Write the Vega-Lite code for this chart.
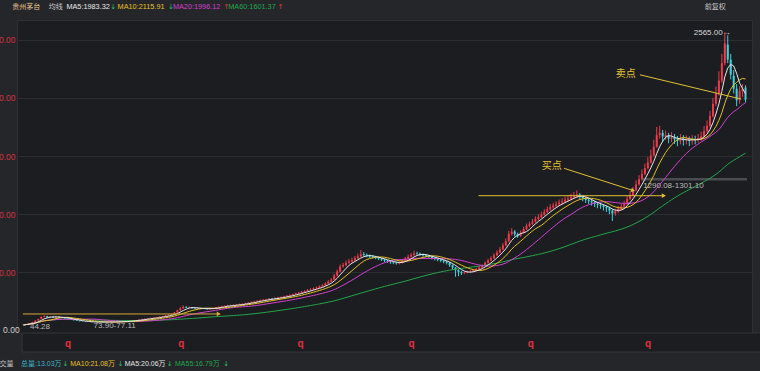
{
"$schema": "https://vega.github.io/schema/vega-lite/v6.json",
"width": 735, "height": 313,
"autosize": {"type": "none"},
"padding": {"left": 17, "top": 20, "right": 8, "bottom": 38},
"background": "#25262a",
"config": {"view": {"fill": "#1c1d21", "stroke": "#2e2f33"}, "axisY": {"titleOpacity": 0}},
"datasets": {"k": [
{"t":0,"o":46,"h":47,"l":43,"c":44},{"t":1,"o":44,"h":53,"l":43,"c":52},{"t":2,"o":53,"h":60,"l":51,"c":58},{"t":3,"o":58,"h":72,"l":57,"c":70},{"t":4,"o":71,"h":85,"l":70,"c":82},{"t":5,"o":83,"h":98,"l":81,"c":95},{"t":6,"o":96,"h":118,"l":94,"c":114},{"t":7,"o":113,"h":126,"l":110,"c":122},{"t":8,"o":121,"h":123,"l":107,"c":110},{"t":9,"o":109,"h":118,"l":107,"c":115},
{"t":10,"o":115,"h":117,"l":105,"c":108},{"t":11,"o":107,"h":119,"l":105,"c":116},{"t":12,"o":117,"h":118,"l":108,"c":111},{"t":13,"o":112,"h":113,"l":103,"c":105},{"t":14,"o":104,"h":106,"l":98,"c":100},{"t":15,"o":101,"h":102,"l":94,"c":97},{"t":16,"o":97,"h":98,"l":88,"c":90},{"t":17,"o":91,"h":92,"l":83,"c":85},{"t":18,"o":84,"h":86,"l":78,"c":80},{"t":19,"o":80,"h":81,"l":75,"c":77},
{"t":20,"o":76,"h":78,"l":73,"c":75},{"t":21,"o":75,"h":76,"l":70,"c":72},{"t":22,"o":72,"h":74,"l":69,"c":71},{"t":23,"o":71,"h":72,"l":67,"c":69},{"t":24,"o":68,"h":72,"l":67,"c":70},{"t":25,"o":70,"h":71,"l":65,"c":67},{"t":26,"o":67,"h":73,"l":66,"c":71},{"t":27,"o":71,"h":72,"l":66,"c":68},{"t":28,"o":68,"h":72,"l":67,"c":70},{"t":29,"o":69,"h":74,"l":68,"c":72},
{"t":30,"o":72,"h":73,"l":67,"c":69},{"t":31,"o":69,"h":72,"l":68,"c":70},{"t":32,"o":70,"h":75,"l":69,"c":73},{"t":33,"o":73,"h":76,"l":72,"c":74},{"t":34,"o":74,"h":79,"l":73,"c":77},{"t":35,"o":77,"h":79,"l":74,"c":76},{"t":36,"o":76,"h":82,"l":75,"c":80},{"t":37,"o":80,"h":86,"l":79,"c":84},{"t":38,"o":84,"h":88,"l":82,"c":86},{"t":39,"o":86,"h":93,"l":85,"c":91},
{"t":40,"o":91,"h":97,"l":89,"c":94},{"t":41,"o":94,"h":100,"l":92,"c":97},{"t":42,"o":97,"h":103,"l":95,"c":101},{"t":43,"o":101,"h":107,"l":99,"c":104},{"t":44,"o":104,"h":111,"l":102,"c":108},{"t":45,"o":108,"h":114,"l":106,"c":111},{"t":46,"o":111,"h":118,"l":109,"c":115},{"t":47,"o":115,"h":123,"l":113,"c":120},{"t":48,"o":120,"h":129,"l":118,"c":126},{"t":49,"o":126,"h":135,"l":124,"c":131},
{"t":50,"o":131,"h":140,"l":129,"c":136},{"t":51,"o":137,"h":156,"l":135,"c":152},{"t":52,"o":152,"h":175,"l":150,"c":170},{"t":53,"o":170,"h":198,"l":168,"c":188},{"t":54,"o":188,"h":212,"l":185,"c":200},{"t":55,"o":201,"h":205,"l":190,"c":194},{"t":56,"o":193,"h":203,"l":190,"c":197},{"t":57,"o":197,"h":199,"l":185,"c":189},{"t":58,"o":190,"h":193,"l":182,"c":186},{"t":59,"o":185,"h":195,"l":183,"c":190},
{"t":60,"o":190,"h":192,"l":180,"c":183},{"t":61,"o":182,"h":189,"l":179,"c":185},{"t":62,"o":185,"h":187,"l":176,"c":180},{"t":63,"o":180,"h":189,"l":178,"c":186},{"t":64,"o":186,"h":194,"l":184,"c":190},{"t":65,"o":190,"h":200,"l":188,"c":197},{"t":66,"o":197,"h":205,"l":195,"c":201},{"t":67,"o":201,"h":210,"l":199,"c":206},{"t":68,"o":206,"h":213,"l":203,"c":208},{"t":69,"o":208,"h":218,"l":206,"c":214},
{"t":70,"o":215,"h":218,"l":208,"c":211},{"t":71,"o":211,"h":222,"l":209,"c":218},{"t":72,"o":218,"h":225,"l":215,"c":220},{"t":73,"o":220,"h":228,"l":217,"c":223},{"t":74,"o":223,"h":231,"l":220,"c":226},{"t":75,"o":226,"h":236,"l":224,"c":232},{"t":76,"o":232,"h":241,"l":229,"c":236},{"t":77,"o":236,"h":248,"l":233,"c":243},{"t":78,"o":243,"h":252,"l":240,"c":246},{"t":79,"o":246,"h":257,"l":243,"c":252},
{"t":80,"o":252,"h":263,"l":249,"c":258},{"t":81,"o":258,"h":267,"l":254,"c":262},{"t":82,"o":262,"h":271,"l":258,"c":265},{"t":83,"o":265,"h":276,"l":261,"c":271},{"t":84,"o":272,"h":277,"l":265,"c":270},{"t":85,"o":270,"h":282,"l":267,"c":277},{"t":86,"o":277,"h":287,"l":273,"c":281},{"t":87,"o":281,"h":290,"l":276,"c":284},{"t":88,"o":284,"h":296,"l":280,"c":290},{"t":89,"o":290,"h":302,"l":286,"c":296},
{"t":90,"o":296,"h":308,"l":292,"c":302},{"t":91,"o":302,"h":315,"l":298,"c":309},{"t":92,"o":309,"h":323,"l":305,"c":316},{"t":93,"o":316,"h":330,"l":311,"c":322},{"t":94,"o":322,"h":337,"l":317,"c":330},{"t":95,"o":330,"h":344,"l":325,"c":337},{"t":96,"o":337,"h":353,"l":332,"c":345},{"t":97,"o":345,"h":360,"l":340,"c":351},{"t":98,"o":351,"h":368,"l":346,"c":360},{"t":99,"o":360,"h":375,"l":354,"c":366},
{"t":100,"o":366,"h":385,"l":361,"c":376},{"t":101,"o":376,"h":396,"l":370,"c":386},{"t":102,"o":386,"h":412,"l":380,"c":402},{"t":103,"o":402,"h":430,"l":396,"c":420},{"t":104,"o":420,"h":448,"l":414,"c":436},{"t":105,"o":436,"h":485,"l":430,"c":470},{"t":106,"o":470,"h":522,"l":462,"c":505},{"t":107,"o":505,"h":565,"l":498,"c":548},{"t":108,"o":548,"h":580,"l":538,"c":560},{"t":109,"o":560,"h":600,"l":552,"c":580},
{"t":110,"o":580,"h":612,"l":570,"c":592},{"t":111,"o":592,"h":625,"l":580,"c":604},{"t":112,"o":604,"h":640,"l":595,"c":620},{"t":113,"o":620,"h":660,"l":610,"c":636},{"t":114,"o":636,"h":690,"l":628,"c":652},{"t":115,"o":655,"h":672,"l":635,"c":648},{"t":116,"o":648,"h":660,"l":628,"c":640},{"t":117,"o":641,"h":652,"l":622,"c":633},{"t":118,"o":634,"h":645,"l":615,"c":628},{"t":119,"o":628,"h":640,"l":610,"c":622},
{"t":120,"o":622,"h":632,"l":603,"c":615},{"t":121,"o":615,"h":622,"l":595,"c":606},{"t":122,"o":607,"h":615,"l":586,"c":598},{"t":123,"o":598,"h":605,"l":578,"c":590},{"t":124,"o":590,"h":600,"l":572,"c":584},{"t":125,"o":584,"h":596,"l":568,"c":580},{"t":126,"o":580,"h":590,"l":564,"c":576},{"t":127,"o":575,"h":594,"l":566,"c":580},{"t":128,"o":580,"h":610,"l":574,"c":596},{"t":129,"o":596,"h":630,"l":590,"c":615},
{"t":130,"o":615,"h":650,"l":608,"c":633},{"t":131,"o":633,"h":665,"l":625,"c":648},{"t":132,"o":648,"h":685,"l":640,"c":660},{"t":133,"o":662,"h":676,"l":645,"c":658},{"t":134,"o":659,"h":668,"l":640,"c":650},{"t":135,"o":651,"h":660,"l":632,"c":644},{"t":136,"o":644,"h":655,"l":626,"c":638},{"t":137,"o":638,"h":648,"l":618,"c":630},{"t":138,"o":630,"h":640,"l":608,"c":620},{"t":139,"o":620,"h":630,"l":600,"c":612},
{"t":140,"o":612,"h":622,"l":592,"c":605},{"t":141,"o":605,"h":615,"l":585,"c":598},{"t":142,"o":598,"h":608,"l":576,"c":590},{"t":143,"o":590,"h":598,"l":566,"c":580},{"t":144,"o":580,"h":588,"l":545,"c":560},{"t":145,"o":560,"h":566,"l":520,"c":538},{"t":146,"o":538,"h":545,"l":460,"c":518},{"t":147,"o":518,"h":525,"l":465,"c":500},{"t":148,"o":500,"h":510,"l":475,"c":492},{"t":149,"o":490,"h":505,"l":482,"c":495},
{"t":150,"o":495,"h":512,"l":488,"c":502},{"t":151,"o":502,"h":518,"l":495,"c":508},{"t":152,"o":508,"h":525,"l":500,"c":516},{"t":153,"o":516,"h":538,"l":510,"c":527},{"t":154,"o":527,"h":552,"l":520,"c":540},{"t":155,"o":540,"h":568,"l":533,"c":556},{"t":156,"o":556,"h":592,"l":550,"c":580},{"t":157,"o":580,"h":615,"l":572,"c":600},{"t":158,"o":600,"h":636,"l":592,"c":620},{"t":159,"o":620,"h":662,"l":612,"c":645},
{"t":160,"o":645,"h":688,"l":638,"c":668},{"t":161,"o":668,"h":715,"l":660,"c":695},{"t":162,"o":695,"h":750,"l":688,"c":730},{"t":163,"o":730,"h":790,"l":722,"c":765},{"t":164,"o":765,"h":855,"l":758,"c":830},{"t":165,"o":830,"h":878,"l":815,"c":848},{"t":166,"o":850,"h":862,"l":808,"c":825},{"t":167,"o":826,"h":840,"l":795,"c":812},{"t":168,"o":812,"h":858,"l":802,"c":840},{"t":169,"o":840,"h":890,"l":832,"c":870},
{"t":170,"o":870,"h":918,"l":860,"c":898},{"t":171,"o":898,"h":935,"l":885,"c":915},{"t":172,"o":915,"h":958,"l":905,"c":935},{"t":173,"o":935,"h":980,"l":925,"c":958},{"t":174,"o":958,"h":998,"l":945,"c":975},{"t":175,"o":975,"h":1020,"l":965,"c":995},{"t":176,"o":995,"h":1042,"l":985,"c":1018},{"t":177,"o":1018,"h":1065,"l":1008,"c":1040},{"t":178,"o":1040,"h":1085,"l":1028,"c":1058},{"t":179,"o":1058,"h":1098,"l":1045,"c":1072},
{"t":180,"o":1072,"h":1110,"l":1058,"c":1085},{"t":181,"o":1085,"h":1125,"l":1070,"c":1100},{"t":182,"o":1100,"h":1138,"l":1082,"c":1110},{"t":183,"o":1110,"h":1150,"l":1095,"c":1124},{"t":184,"o":1124,"h":1160,"l":1105,"c":1135},{"t":185,"o":1135,"h":1175,"l":1118,"c":1148},{"t":186,"o":1148,"h":1190,"l":1130,"c":1160},{"t":187,"o":1160,"h":1205,"l":1140,"c":1168},{"t":188,"o":1168,"h":1180,"l":1125,"c":1150},{"t":189,"o":1150,"h":1165,"l":1110,"c":1138},
{"t":190,"o":1138,"h":1150,"l":1095,"c":1122},{"t":191,"o":1122,"h":1140,"l":1085,"c":1110},{"t":192,"o":1110,"h":1130,"l":1072,"c":1100},{"t":193,"o":1100,"h":1115,"l":1060,"c":1088},{"t":194,"o":1088,"h":1105,"l":1050,"c":1080},{"t":195,"o":1080,"h":1098,"l":1045,"c":1072},{"t":196,"o":1072,"h":1085,"l":1030,"c":1060},{"t":197,"o":1060,"h":1075,"l":1018,"c":1050},{"t":198,"o":1050,"h":1062,"l":998,"c":1030},{"t":199,"o":1030,"h":1040,"l":940,"c":1005},
{"t":200,"o":1005,"h":1045,"l":985,"c":1022},{"t":201,"o":1022,"h":1070,"l":1010,"c":1048},{"t":202,"o":1048,"h":1090,"l":1035,"c":1065},{"t":203,"o":1065,"h":1115,"l":1055,"c":1090},{"t":204,"o":1090,"h":1155,"l":1080,"c":1130},{"t":205,"o":1130,"h":1195,"l":1120,"c":1165},{"t":206,"o":1165,"h":1235,"l":1155,"c":1205},{"t":207,"o":1205,"h":1290,"l":1195,"c":1255},{"t":208,"o":1255,"h":1335,"l":1245,"c":1300},{"t":209,"o":1300,"h":1385,"l":1290,"c":1345},
{"t":210,"o":1345,"h":1435,"l":1335,"c":1395},{"t":211,"o":1395,"h":1490,"l":1385,"c":1445},{"t":212,"o":1445,"h":1555,"l":1435,"c":1505},{"t":213,"o":1505,"h":1640,"l":1495,"c":1580},{"t":214,"o":1580,"h":1750,"l":1570,"c":1680},{"t":215,"o":1680,"h":1760,"l":1650,"c":1700},{"t":216,"o":1700,"h":1725,"l":1620,"c":1668},{"t":217,"o":1665,"h":1720,"l":1640,"c":1680},{"t":218,"o":1680,"h":1700,"l":1610,"c":1650},{"t":219,"o":1648,"h":1705,"l":1620,"c":1660},
{"t":220,"o":1660,"h":1690,"l":1605,"c":1645},{"t":221,"o":1645,"h":1672,"l":1585,"c":1630},{"t":222,"o":1628,"h":1690,"l":1600,"c":1650},{"t":223,"o":1650,"h":1680,"l":1590,"c":1635},{"t":224,"o":1635,"h":1678,"l":1600,"c":1642},{"t":225,"o":1642,"h":1668,"l":1585,"c":1630},{"t":226,"o":1630,"h":1680,"l":1598,"c":1645},{"t":227,"o":1645,"h":1675,"l":1600,"c":1638},{"t":228,"o":1638,"h":1690,"l":1615,"c":1655},{"t":229,"o":1655,"h":1710,"l":1630,"c":1670},
{"t":230,"o":1670,"h":1760,"l":1660,"c":1715},{"t":231,"o":1715,"h":1805,"l":1700,"c":1760},{"t":232,"o":1760,"h":1890,"l":1745,"c":1845},{"t":233,"o":1845,"h":2000,"l":1830,"c":1950},{"t":234,"o":1950,"h":2100,"l":1930,"c":2040},{"t":235,"o":2040,"h":2230,"l":2020,"c":2150},{"t":236,"o":2150,"h":2380,"l":2130,"c":2300},{"t":237,"o":2300,"h":2565,"l":2280,"c":2470},{"t":238,"o":2460,"h":2540,"l":2300,"c":2330},{"t":239,"o":2330,"h":2380,"l":2160,"c":2200},
{"t":240,"o":2190,"h":2240,"l":2040,"c":2080},{"t":241,"o":2080,"h":2120,"l":1930,"c":1980},{"t":242,"o":1980,"h":2100,"l":1950,"c":2060},{"t":243,"o":2060,"h":2120,"l":2010,"c":2080},{"t":244,"o":2090,"h":2110,"l":1960,"c":1985}
]},
"layer": [
{"data": {"name": "k"}, "mark": {"type": "rule", "strokeWidth": 1},
 "encoding": {"x": {"field": "t", "type": "quantitative", "scale": {"domain": [-0.5, 244.5], "nice": false, "zero": false}, "axis": null},
  "y": {"field": "l", "type": "quantitative", "scale": {"domain": [-25, 2672], "nice": false, "zero": false},
   "axis": {"values": [500, 1000, 1500, 2000, 2500], "format": ".2f", "title": null, "ticks": false, "domain": false, "grid": true, "gridColor": "#2c2d32", "gridWidth": 1, "labelPadding": 2, "labelFontSize": 8.5, "labelFont": "Liberation Sans", "labelColor": "#d2313f"}},
  "y2": {"field": "h"},
  "color": {"condition": {"test": "datum.c >= datum.o", "value": "#ee3b4b"}, "value": "#3ed2dc"}}},
{"data": {"values": [{}]}, "mark": {"type": "rect", "fill": "#1c1d21", "stroke": "#34353a", "strokeWidth": 1},
 "encoding": {"x": {"datum": -0.5, "type": "quantitative", "scale": {"domain": [-0.5, 244.5], "nice": false, "zero": false}, "axis": null},
  "x2": {"datum": 250},
  "y": {"datum": -25, "type": "quantitative", "scale": {"domain": [-25, 2672], "nice": false, "zero": false}},
  "y2": {"datum": -189}}},
{"data": {"values": [{}]}, "mark": {"type": "rule", "color": "#4b4c51", "strokeWidth": 2.5},
 "encoding": {"x": {"datum": 208.8, "type": "quantitative", "scale": {"domain": [-0.5, 244.5], "nice": false, "zero": false}, "axis": null},
  "x2": {"datum": 244.5},
  "y": {"datum": 1300, "type": "quantitative", "scale": {"domain": [-25, 2672], "nice": false, "zero": false}}}},
{"data": {"name": "k"}, "mark": {"type": "bar", "size": 2},
 "encoding": {"x": {"field": "t", "type": "quantitative", "scale": {"domain": [-0.5, 244.5], "nice": false, "zero": false}, "axis": null},
  "y": {"field": "o", "type": "quantitative", "scale": {"domain": [-25, 2672], "nice": false, "zero": false}},
  "y2": {"field": "c"},
  "color": {"condition": {"test": "datum.c >= datum.o", "value": "#ee3b4b"}, "value": "#3ed2dc"}}},
{"data": {"name": "k"},
 "transform": [
  {"window": [{"op": "mean", "field": "c", "as": "MA5"}], "frame": [-4, 0], "sort": [{"field": "t"}]},
  {"window": [{"op": "mean", "field": "c", "as": "MA10"}], "frame": [-9, 0], "sort": [{"field": "t"}]},
  {"window": [{"op": "mean", "field": "c", "as": "MA20"}], "frame": [-19, 0], "sort": [{"field": "t"}]},
  {"window": [{"op": "mean", "field": "c", "as": "MA60"}], "frame": [-59, 0], "sort": [{"field": "t"}]},
  {"fold": ["MA60", "MA20", "MA10", "MA5"], "as": ["ma", "v"]}],
 "mark": {"type": "line", "strokeWidth": 1},
 "encoding": {"x": {"field": "t", "type": "quantitative", "scale": {"domain": [-0.5, 244.5], "nice": false, "zero": false}, "axis": null},
  "y": {"field": "v", "type": "quantitative", "scale": {"domain": [-25, 2672], "nice": false, "zero": false}},
  "color": {"field": "ma", "type": "nominal", "scale": {"domain": ["MA5", "MA10", "MA20", "MA60"], "range": ["#e8e8e8", "#e8c020", "#d43fd4", "#22a84a"]}, "legend": null}}},
{"data": {"values": [{}]}, "mark": {"type": "rule", "color": "#d9a935", "strokeWidth": 1},
 "encoding": {"x": {"datum": -0.2, "type": "quantitative", "scale": {"domain": [-0.5, 244.5], "nice": false, "zero": false}, "axis": null}, "x2": {"datum": 66},
  "y": {"datum": 139, "type": "quantitative", "scale": {"domain": [-25, 2672], "nice": false, "zero": false}}}},
{"data": {"values": [{}]}, "mark": {"type": "rule", "color": "#e3c034", "strokeWidth": 1},
 "encoding": {"x": {"datum": 153.8, "type": "quantitative", "scale": {"domain": [-0.5, 244.5], "nice": false, "zero": false}, "axis": null}, "x2": {"datum": 216.4},
  "y": {"datum": 1158, "type": "quantitative", "scale": {"domain": [-25, 2672], "nice": false, "zero": false}}}},
{"data": {"values": [{}]}, "mark": {"type": "rule", "color": "#e3c034", "strokeWidth": 1},
 "encoding": {"x": {"datum": 182.7, "type": "quantitative", "scale": {"domain": [-0.5, 244.5], "nice": false, "zero": false}, "axis": null}, "x2": {"datum": 206},
  "y": {"datum": 1394, "type": "quantitative", "scale": {"domain": [-25, 2672], "nice": false, "zero": false}}, "y2": {"datum": 1203}}},
{"data": {"values": [{}]}, "mark": {"type": "rule", "color": "#e3c034", "strokeWidth": 1},
 "encoding": {"x": {"datum": 208.3, "type": "quantitative", "scale": {"domain": [-0.5, 244.5], "nice": false, "zero": false}, "axis": null}, "x2": {"datum": 242.5},
  "y": {"datum": 2200, "type": "quantitative", "scale": {"domain": [-25, 2672], "nice": false, "zero": false}}, "y2": {"datum": 1991}}},
{"data": {"values": [{}]}, "mark": {"type": "point", "shape": "triangle-right", "filled": true, "size": 22, "color": "#d9a935", "opacity": 1},
 "encoding": {"x": {"datum": 66, "type": "quantitative", "scale": {"domain": [-0.5, 244.5], "nice": false, "zero": false}, "axis": null},
  "y": {"datum": 139, "type": "quantitative", "scale": {"domain": [-25, 2672], "nice": false, "zero": false}}}},
{"data": {"values": [{}]}, "mark": {"type": "point", "shape": "triangle-right", "filled": true, "size": 22, "color": "#e3c034", "opacity": 1},
 "encoding": {"x": {"datum": 216.4, "type": "quantitative", "scale": {"domain": [-0.5, 244.5], "nice": false, "zero": false}, "axis": null},
  "y": {"datum": 1158, "type": "quantitative", "scale": {"domain": [-25, 2672], "nice": false, "zero": false}}}},
{"data": {"values": [{}]}, "mark": {"type": "point", "shape": "triangle-right", "filled": true, "size": 22, "angle": 18, "color": "#e3c034", "opacity": 1},
 "encoding": {"x": {"datum": 206, "type": "quantitative", "scale": {"domain": [-0.5, 244.5], "nice": false, "zero": false}, "axis": null},
  "y": {"datum": 1203, "type": "quantitative", "scale": {"domain": [-25, 2672], "nice": false, "zero": false}}}},
{"data": {"values": [{}]}, "mark": {"type": "text", "text": "卖点", "align": "center", "baseline": "middle", "color": "#e3c034", "font": "Noto Sans CJK SC", "fontSize": 10},
 "encoding": {"x": {"datum": 203.5, "type": "quantitative", "scale": {"domain": [-0.5, 244.5], "nice": false, "zero": false}, "axis": null},
  "y": {"datum": 2203, "type": "quantitative", "scale": {"domain": [-25, 2672], "nice": false, "zero": false}}}},
{"data": {"values": [{}]}, "mark": {"type": "text", "text": "买点", "align": "center", "baseline": "middle", "color": "#e3c034", "font": "Noto Sans CJK SC", "fontSize": 10},
 "encoding": {"x": {"datum": 178.5, "type": "quantitative", "scale": {"domain": [-0.5, 244.5], "nice": false, "zero": false}, "axis": null},
  "y": {"datum": 1417, "type": "quantitative", "scale": {"domain": [-25, 2672], "nice": false, "zero": false}}}},
{"data": {"values": [{}]}, "mark": {"type": "text", "text": "2565.00→", "align": "left", "baseline": "middle", "color": "#d8d8d8", "font": "Liberation Sans", "fontSize": 8},
 "encoding": {"x": {"datum": 226.5, "type": "quantitative", "scale": {"domain": [-0.5, 244.5], "nice": false, "zero": false}, "axis": null},
  "y": {"datum": 2564, "type": "quantitative", "scale": {"domain": [-25, 2672], "nice": false, "zero": false}}}},
{"data": {"values": [{}]}, "mark": {"type": "text", "text": "1290.08-1301.10", "align": "left", "baseline": "middle", "color": "#b8b8b8", "font": "Liberation Sans", "fontSize": 8},
 "encoding": {"x": {"datum": 209.4, "type": "quantitative", "scale": {"domain": [-0.5, 244.5], "nice": false, "zero": false}, "axis": null},
  "y": {"datum": 1242, "type": "quantitative", "scale": {"domain": [-25, 2672], "nice": false, "zero": false}}}},
{"data": {"values": [{}]}, "mark": {"type": "text", "text": "73.90-77.11", "align": "center", "baseline": "middle", "color": "#b8b8b8", "font": "Liberation Sans", "fontSize": 8},
 "encoding": {"x": {"datum": 30.8, "type": "quantitative", "scale": {"domain": [-0.5, 244.5], "nice": false, "zero": false}, "axis": null},
  "y": {"datum": 36, "type": "quantitative", "scale": {"domain": [-25, 2672], "nice": false, "zero": false}}}},
{"data": {"values": [{}]}, "mark": {"type": "text", "text": "44.28", "align": "left", "baseline": "middle", "color": "#b8b8b8", "font": "Liberation Sans", "fontSize": 8},
 "encoding": {"x": {"datum": 2.2, "type": "quantitative", "scale": {"domain": [-0.5, 244.5], "nice": false, "zero": false}, "axis": null},
  "y": {"datum": 29, "type": "quantitative", "scale": {"domain": [-25, 2672], "nice": false, "zero": false}}}},
{"data": {"values": [{"t": 15.1}, {"t": 53.3}, {"t": 93.6}, {"t": 131.1}, {"t": 171.4}, {"t": 211.1}]},
 "mark": {"type": "text", "text": "q", "align": "center", "baseline": "middle", "color": "#e2303f", "font": "Liberation Sans", "fontSize": 10, "fontWeight": "bold"},
 "encoding": {"x": {"field": "t", "type": "quantitative", "scale": {"domain": [-0.5, 244.5], "nice": false, "zero": false}, "axis": null},
  "y": {"datum": -118, "type": "quantitative", "scale": {"domain": [-25, 2672], "nice": false, "zero": false}}}},
{"data": {"values": [{}]}, "mark": {"type": "text", "text": "0.00", "align": "right", "baseline": "middle", "color": "#d0d0d0", "font": "Liberation Sans", "fontSize": 8.5},
 "encoding": {"x": {"datum": -1.3, "type": "quantitative", "scale": {"domain": [-0.5, 244.5], "nice": false, "zero": false}, "axis": null},
  "y": {"datum": 0, "type": "quantitative", "scale": {"domain": [-25, 2672], "nice": false, "zero": false}}}},
{"data": {"values": [{}]}, "mark": {"type": "text", "text": "贵州茅台", "align": "left", "baseline": "middle", "color": "#e9c48f", "font": "Noto Sans CJK SC", "fontSize": 7},
 "encoding": {"x": {"datum": -3.8, "type": "quantitative", "scale": {"domain": [-0.5, 244.5], "nice": false, "zero": false}, "axis": null},
  "y": {"datum": 2787, "type": "quantitative", "scale": {"domain": [-25, 2672], "nice": false, "zero": false}}}},
{"data": {"values": [{}]}, "mark": {"type": "text", "text": "均线", "align": "left", "baseline": "middle", "color": "#c8c8c8", "font": "Noto Sans CJK SC", "fontSize": 7},
 "encoding": {"x": {"datum": 8.5, "type": "quantitative", "scale": {"domain": [-0.5, 244.5], "nice": false, "zero": false}, "axis": null},
  "y": {"datum": 2787, "type": "quantitative", "scale": {"domain": [-25, 2672], "nice": false, "zero": false}}}},
{"data": {"values": [{}]}, "mark": {"type": "text", "text": "MA5:1983.32", "align": "left", "baseline": "middle", "color": "#e8e8e8", "font": "Liberation Sans", "fontSize": 7.3},
 "encoding": {"x": {"datum": 14.5, "type": "quantitative", "scale": {"domain": [-0.5, 244.5], "nice": false, "zero": false}, "axis": null},
  "y": {"datum": 2787, "type": "quantitative", "scale": {"domain": [-25, 2672], "nice": false, "zero": false}}}},
{"data": {"values": [{}]}, "mark": {"type": "text", "text": "↓", "align": "left", "baseline": "middle", "color": "#22c55e", "font": "DejaVu Sans", "fontSize": 7},
 "encoding": {"x": {"datum": 29.3, "type": "quantitative", "scale": {"domain": [-0.5, 244.5], "nice": false, "zero": false}, "axis": null},
  "y": {"datum": 2787, "type": "quantitative", "scale": {"domain": [-25, 2672], "nice": false, "zero": false}}}},
{"data": {"values": [{}]}, "mark": {"type": "text", "text": "MA10:2115.91", "align": "left", "baseline": "middle", "color": "#e8c020", "font": "Liberation Sans", "fontSize": 7.3},
 "encoding": {"x": {"datum": 31.8, "type": "quantitative", "scale": {"domain": [-0.5, 244.5], "nice": false, "zero": false}, "axis": null},
  "y": {"datum": 2787, "type": "quantitative", "scale": {"domain": [-25, 2672], "nice": false, "zero": false}}}},
{"data": {"values": [{}]}, "mark": {"type": "text", "text": "↓", "align": "left", "baseline": "middle", "color": "#22c55e", "font": "DejaVu Sans", "fontSize": 7},
 "encoding": {"x": {"datum": 48.8, "type": "quantitative", "scale": {"domain": [-0.5, 244.5], "nice": false, "zero": false}, "axis": null},
  "y": {"datum": 2787, "type": "quantitative", "scale": {"domain": [-25, 2672], "nice": false, "zero": false}}}},
{"data": {"values": [{}]}, "mark": {"type": "text", "text": "MA20:1996.12", "align": "left", "baseline": "middle", "color": "#d43fd4", "font": "Liberation Sans", "fontSize": 7.3},
 "encoding": {"x": {"datum": 50.5, "type": "quantitative", "scale": {"domain": [-0.5, 244.5], "nice": false, "zero": false}, "axis": null},
  "y": {"datum": 2787, "type": "quantitative", "scale": {"domain": [-25, 2672], "nice": false, "zero": false}}}},
{"data": {"values": [{}]}, "mark": {"type": "text", "text": "↑", "align": "left", "baseline": "middle", "color": "#e53935", "font": "DejaVu Sans", "fontSize": 7},
 "encoding": {"x": {"datum": 67.5, "type": "quantitative", "scale": {"domain": [-0.5, 244.5], "nice": false, "zero": false}, "axis": null},
  "y": {"datum": 2787, "type": "quantitative", "scale": {"domain": [-25, 2672], "nice": false, "zero": false}}}},
{"data": {"values": [{}]}, "mark": {"type": "text", "text": "MA60:1601.37", "align": "left", "baseline": "middle", "color": "#22a84a", "font": "Liberation Sans", "fontSize": 7.3},
 "encoding": {"x": {"datum": 69.2, "type": "quantitative", "scale": {"domain": [-0.5, 244.5], "nice": false, "zero": false}, "axis": null},
  "y": {"datum": 2787, "type": "quantitative", "scale": {"domain": [-25, 2672], "nice": false, "zero": false}}}},
{"data": {"values": [{}]}, "mark": {"type": "text", "text": "↑", "align": "left", "baseline": "middle", "color": "#e53935", "font": "DejaVu Sans", "fontSize": 7},
 "encoding": {"x": {"datum": 85.8, "type": "quantitative", "scale": {"domain": [-0.5, 244.5], "nice": false, "zero": false}, "axis": null},
  "y": {"datum": 2787, "type": "quantitative", "scale": {"domain": [-25, 2672], "nice": false, "zero": false}}}},
{"data": {"values": [{}]}, "mark": {"type": "text", "text": "前复权", "align": "left", "baseline": "middle", "color": "#c8c8c8", "font": "Noto Sans CJK SC", "fontSize": 7},
 "encoding": {"x": {"datum": 230.2, "type": "quantitative", "scale": {"domain": [-0.5, 244.5], "nice": false, "zero": false}, "axis": null},
  "y": {"datum": 2787, "type": "quantitative", "scale": {"domain": [-25, 2672], "nice": false, "zero": false}}}},
{"data": {"values": [{}]}, "mark": {"type": "text", "text": "成交量", "align": "right", "baseline": "middle", "color": "#c8c8c8", "font": "Noto Sans CJK SC", "fontSize": 7},
 "encoding": {"x": {"datum": -3.4, "type": "quantitative", "scale": {"domain": [-0.5, 244.5], "nice": false, "zero": false}, "axis": null},
  "y": {"datum": -295, "type": "quantitative", "scale": {"domain": [-25, 2672], "nice": false, "zero": false}}}},
{"data": {"values": [{}]}, "mark": {"type": "text", "text": "总量:13.03万", "align": "left", "baseline": "middle", "color": "#3ab4c4", "font": "Liberation Sans, Noto Sans CJK SC", "fontSize": 7},
 "encoding": {"x": {"datum": -0.8, "type": "quantitative", "scale": {"domain": [-0.5, 244.5], "nice": false, "zero": false}, "axis": null},
  "y": {"datum": -295, "type": "quantitative", "scale": {"domain": [-25, 2672], "nice": false, "zero": false}}}},
{"data": {"values": [{}]}, "mark": {"type": "text", "text": "↓", "align": "left", "baseline": "middle", "color": "#22c55e", "font": "DejaVu Sans", "fontSize": 7},
 "encoding": {"x": {"datum": 13.2, "type": "quantitative", "scale": {"domain": [-0.5, 244.5], "nice": false, "zero": false}, "axis": null},
  "y": {"datum": -295, "type": "quantitative", "scale": {"domain": [-25, 2672], "nice": false, "zero": false}}}},
{"data": {"values": [{}]}, "mark": {"type": "text", "text": "MA10:21.08万", "align": "left", "baseline": "middle", "color": "#e8c020", "font": "Liberation Sans, Noto Sans CJK SC", "fontSize": 7},
 "encoding": {"x": {"datum": 15.8, "type": "quantitative", "scale": {"domain": [-0.5, 244.5], "nice": false, "zero": false}, "axis": null},
  "y": {"datum": -295, "type": "quantitative", "scale": {"domain": [-25, 2672], "nice": false, "zero": false}}}},
{"data": {"values": [{}]}, "mark": {"type": "text", "text": "↓", "align": "left", "baseline": "middle", "color": "#22c55e", "font": "DejaVu Sans", "fontSize": 7},
 "encoding": {"x": {"datum": 31.8, "type": "quantitative", "scale": {"domain": [-0.5, 244.5], "nice": false, "zero": false}, "axis": null},
  "y": {"datum": -295, "type": "quantitative", "scale": {"domain": [-25, 2672], "nice": false, "zero": false}}}},
{"data": {"values": [{}]}, "mark": {"type": "text", "text": "MA5:20.06万", "align": "left", "baseline": "middle", "color": "#e8e8e8", "font": "Liberation Sans, Noto Sans CJK SC", "fontSize": 7},
 "encoding": {"x": {"datum": 34.2, "type": "quantitative", "scale": {"domain": [-0.5, 244.5], "nice": false, "zero": false}, "axis": null},
  "y": {"datum": -295, "type": "quantitative", "scale": {"domain": [-25, 2672], "nice": false, "zero": false}}}},
{"data": {"values": [{}]}, "mark": {"type": "text", "text": "↓", "align": "left", "baseline": "middle", "color": "#22c55e", "font": "DejaVu Sans", "fontSize": 7},
 "encoding": {"x": {"datum": 48.4, "type": "quantitative", "scale": {"domain": [-0.5, 244.5], "nice": false, "zero": false}, "axis": null},
  "y": {"datum": -295, "type": "quantitative", "scale": {"domain": [-25, 2672], "nice": false, "zero": false}}}},
{"data": {"values": [{}]}, "mark": {"type": "text", "text": "MA55:16.79万", "align": "left", "baseline": "middle", "color": "#22a84a", "font": "Liberation Sans, Noto Sans CJK SC", "fontSize": 7},
 "encoding": {"x": {"datum": 51.2, "type": "quantitative", "scale": {"domain": [-0.5, 244.5], "nice": false, "zero": false}, "axis": null},
  "y": {"datum": -295, "type": "quantitative", "scale": {"domain": [-25, 2672], "nice": false, "zero": false}}}},
{"data": {"values": [{}]}, "mark": {"type": "text", "text": "↓", "align": "left", "baseline": "middle", "color": "#22c55e", "font": "DejaVu Sans", "fontSize": 7},
 "encoding": {"x": {"datum": 67.5, "type": "quantitative", "scale": {"domain": [-0.5, 244.5], "nice": false, "zero": false}, "axis": null},
  "y": {"datum": -295, "type": "quantitative", "scale": {"domain": [-25, 2672], "nice": false, "zero": false}}}}
]
}
